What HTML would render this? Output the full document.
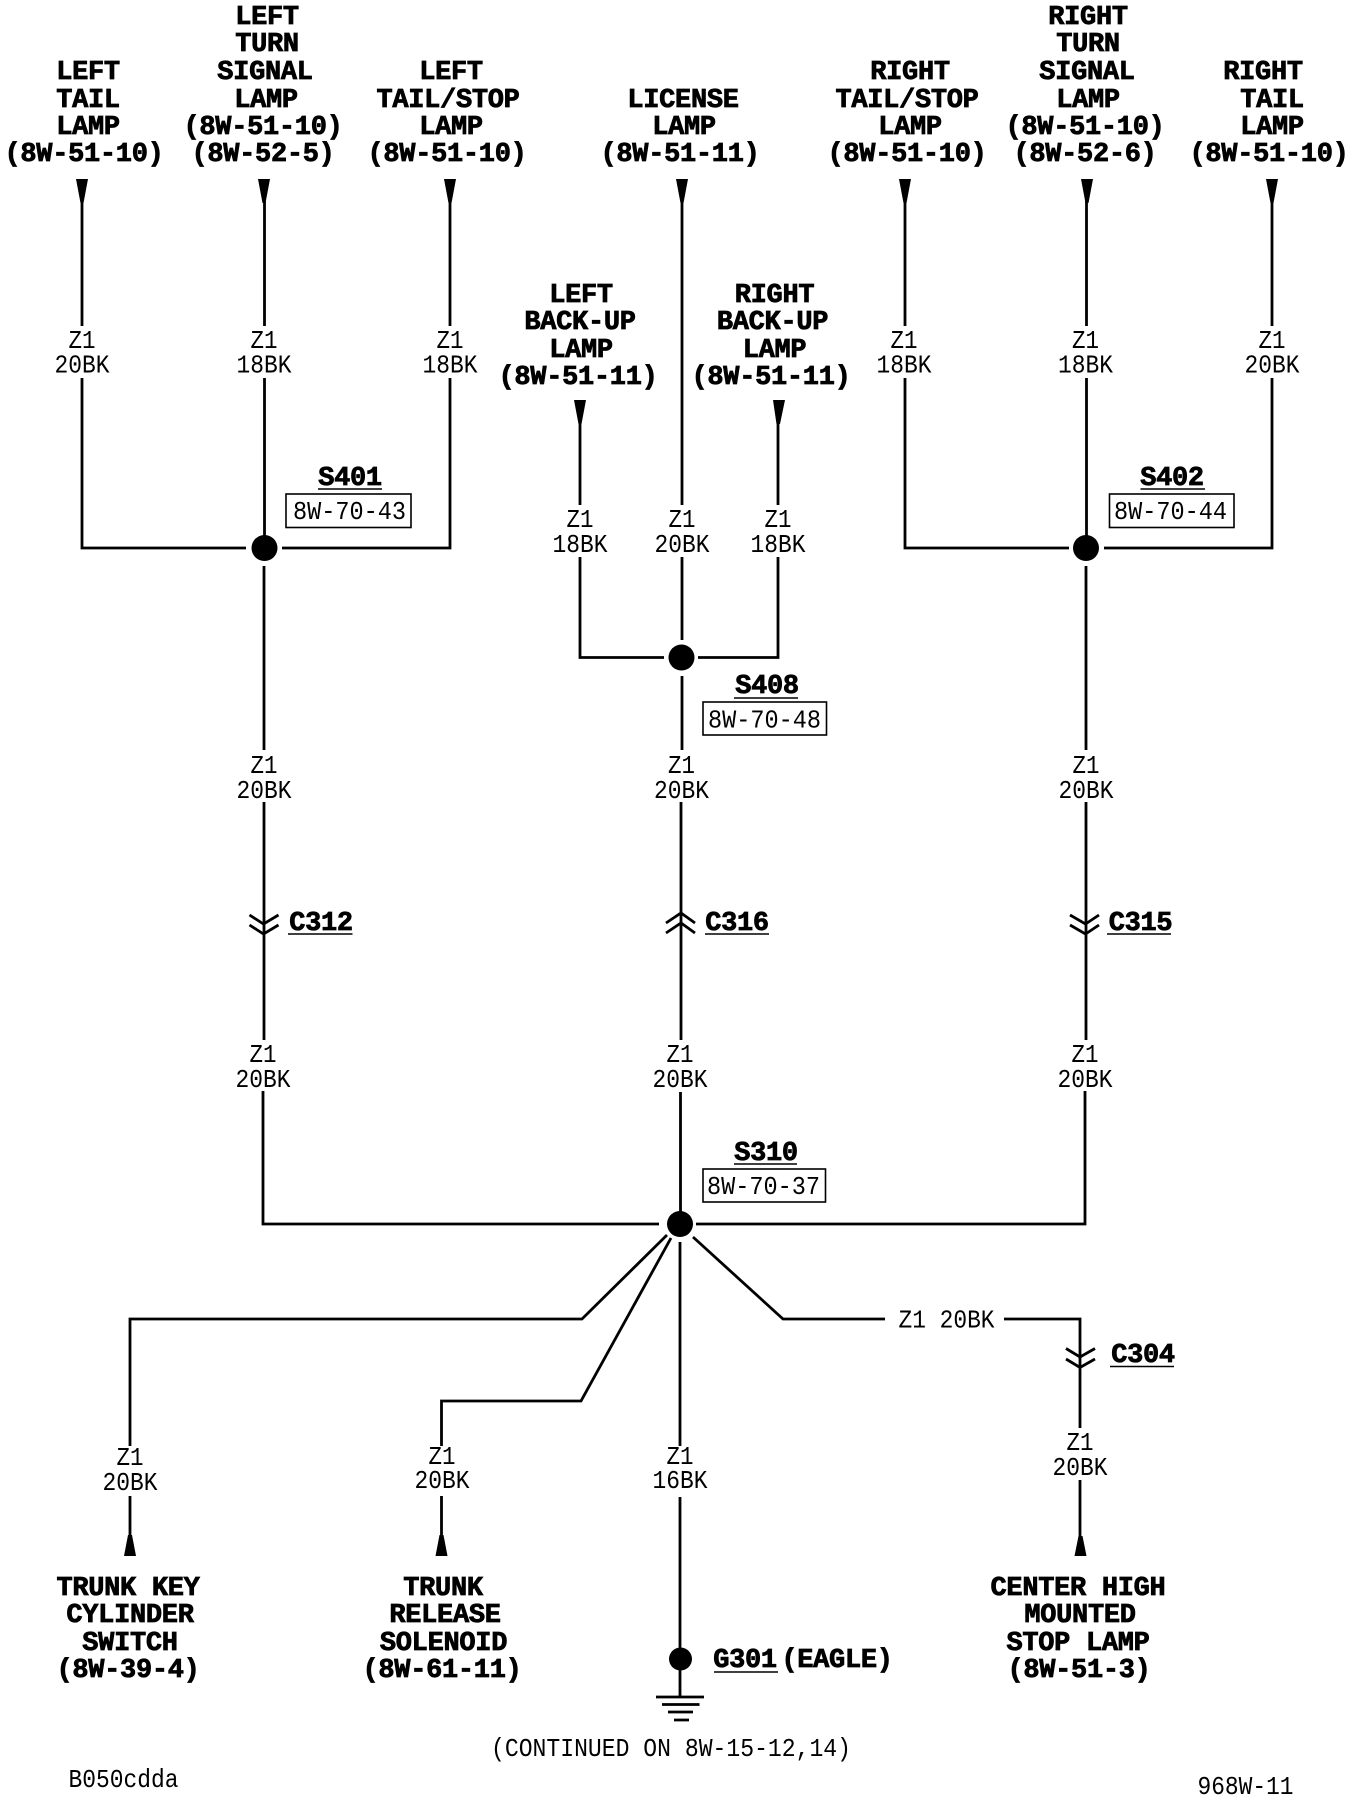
<!DOCTYPE html>
<html><head><meta charset="utf-8"><style>
html,body{margin:0;padding:0;background:#fff}
svg{display:block}
text{font-family:"Liberation Mono",monospace;fill:#000}
.b{font-size:27px;font-weight:bold;letter-spacing:-.3px;stroke:#000;stroke-width:.8px;text-anchor:middle}
.t{font-size:26px;text-anchor:middle}
.w{fill:none;stroke:#000;stroke-width:2.8}
.u{fill:none;stroke:#000;stroke-width:1.6}
</style></head><body>
<svg width="1360" height="1800" viewBox="0 0 1360 1800" xmlns="http://www.w3.org/2000/svg">
<rect width="1360" height="1800" fill="#fff"/>
<!-- wires -->
<g class="w">
<path d="M82 195V326M82 378V548H246"/>
<path d="M264.500 195V326M264.500 378V540M264 566V750M264 802V1040M263 1091V1224H659"/>
<path d="M450 195V326M450 378V548H282"/>
<path d="M580 415V505M580 557V657.500H664"/>
<path d="M682 195V505M682 557V640M682 676V750M681 802V1040M680.500 1092V1212"/>
<path d="M778 415V505M778 557V657.500H698"/>
<path d="M905 195V326M905 378V548H1069"/>
<path d="M1086.500 195V326M1086.500 378V540M1086 566V750M1086 802V1040M1085 1091V1224H696"/>
<path d="M1272 195V326M1272 378V548H1104"/>
<path d="M667 1235L582 1319H130V1446M130 1496V1545"/>
<path d="M671 1238L581 1401H441.500V1446M441.500 1496V1545"/>
<path d="M680 1242V1446M680 1497V1697"/>
<path d="M693 1237L783 1319H885M1004 1319H1080V1428M1080 1480V1545"/>
</g>
<!-- arrowheads -->
<g fill="#000">
<path d="M76 179H88L83.500 203H80.500Z"/>
<path d="M258 179H270L265.500 203H262.500Z"/>
<path d="M444 179H456L451.500 203H448.500Z"/>
<path d="M676 179H688L683.500 203H680.500Z"/>
<path d="M899 179H911L906.500 203H903.500Z"/>
<path d="M1081 179H1093L1088.500 203H1085.500Z"/>
<path d="M1266 179H1278L1273.500 203H1270.500Z"/>
<path d="M574 400H586L581.500 424H578.500Z"/>
<path d="M773 400H785L780 424H776.500Z"/>
<path d="M124 1556H136L132 1535H128Z"/>
<path d="M435.500 1556H447.500L443.500 1535H439.500Z"/>
<path d="M1074.500 1556H1086.500L1082.500 1536H1078.500Z"/>
<circle cx="264.500" cy="548" r="13"/>
<circle cx="1086" cy="548" r="13"/>
<circle cx="681.500" cy="657.500" r="13"/>
<circle cx="680" cy="1224" r="13"/>
<circle cx="680.500" cy="1659" r="11.500"/>
</g>
<!-- connector chevrons -->
<g class="w">
<path d="M249.500 915L263.500 924L278.500 915M249.500 925L263.500 934L278.500 925"/>
<path d="M666 923L681 913L695 923M666 933L681 923L695 933"/>
<path d="M1070 915L1085.500 924L1099 915M1070 925L1085.500 934L1099 925"/>
<path d="M1066 1348.500L1080 1357L1095 1348.500M1066 1359L1080 1367.500L1095 1359"/>
</g>
<!-- ground -->
<g class="w">
<path d="M656 1697H704M662 1704.500H699.500M668 1712H693M674 1720H689"/>
</g>
<!-- reference boxes & underlines -->
<g class="u">
<rect x="286" y="494" width="125" height="33.500"/>
<rect x="1109.500" y="494" width="124.500" height="33.500"/>
<rect x="703" y="702" width="123.500" height="33"/>
<rect x="703" y="1169" width="122.500" height="33"/>
<path d="M318 489H382M1140.500 489H1205M734 698H798M734 1164H797M288 934H352.500M705 934H769M1107 934H1171M1110 1366.500H1174M714 1672H778"/>
</g>
<!-- bold labels top -->
<g class="b">
<text x="88" y="79">LEFT</text><text x="88" y="107">TAIL</text><text x="88" y="134">LAMP</text><text x="84" y="161">(8W-51-10)</text>
<text x="267" y="24">LEFT</text><text x="267" y="51">TURN</text><text x="265" y="79">SIGNAL</text><text x="266" y="107">LAMP</text><text x="263" y="134">(8W-51-10)</text><text x="263" y="161">(8W-52-5)</text>
<text x="451" y="79">LEFT</text><text x="448" y="107">TAIL/STOP</text><text x="451" y="134">LAMP</text><text x="447" y="161">(8W-51-10)</text>
<text x="683" y="107">LICENSE</text><text x="684" y="134">LAMP</text><text x="680" y="161">(8W-51-11)</text>
<text x="581" y="302">LEFT</text><text x="580" y="329">BACK-UP</text><text x="581" y="357">LAMP</text><text x="578" y="384">(8W-51-11)</text>
<text x="774.500" y="302">RIGHT</text><text x="772.500" y="329">BACK-UP</text><text x="774.500" y="357">LAMP</text><text x="771" y="384">(8W-51-11)</text>
<text x="910" y="79">RIGHT</text><text x="907" y="107">TAIL/STOP</text><text x="910" y="134">LAMP</text><text x="907" y="161">(8W-51-10)</text>
<text x="1088" y="24">RIGHT</text><text x="1088" y="51">TURN</text><text x="1087" y="79">SIGNAL</text><text x="1088" y="107">LAMP</text><text x="1085" y="134">(8W-51-10)</text><text x="1085" y="161">(8W-52-6)</text>
<text x="1263" y="79">RIGHT</text><text x="1272" y="107">TAIL</text><text x="1272" y="134">LAMP</text><text x="1269" y="161">(8W-51-10)</text>
<text x="350" y="485">S401</text><text x="1172" y="485">S402</text><text x="767" y="693">S408</text><text x="766" y="1160">S310</text>
<text x="321" y="930">C312</text><text x="737" y="930">C316</text><text x="1140.500" y="930">C315</text><text x="1143" y="1362">C304</text>
<text x="745" y="1667">G301</text><text x="837" y="1667">(EAGLE)</text>
<text x="128" y="1595">TRUNK KEY</text><text x="130" y="1622">CYLINDER</text><text x="130" y="1650">SWITCH</text><text x="128" y="1677">(8W-39-4)</text>
<text x="443" y="1595">TRUNK</text><text x="445" y="1622">RELEASE</text><text x="443.500" y="1650">SOLENOID</text><text x="442" y="1677">(8W-61-11)</text>
<text x="1078" y="1595">CENTER HIGH</text><text x="1080" y="1622">MOUNTED</text><text x="1078" y="1650">STOP LAMP</text><text x="1079" y="1677">(8W-51-3)</text>
</g>
<!-- thin labels -->
<g class="t">
<text x="82" y="348" textLength="27" lengthAdjust="spacingAndGlyphs">Z1</text><text x="82" y="372.500" textLength="55" lengthAdjust="spacingAndGlyphs">20BK</text>
<text x="264" y="348" textLength="27" lengthAdjust="spacingAndGlyphs">Z1</text><text x="264" y="372.500" textLength="55" lengthAdjust="spacingAndGlyphs">18BK</text>
<text x="450" y="348" textLength="27" lengthAdjust="spacingAndGlyphs">Z1</text><text x="450" y="372.500" textLength="55" lengthAdjust="spacingAndGlyphs">18BK</text>
<text x="904" y="348" textLength="27" lengthAdjust="spacingAndGlyphs">Z1</text><text x="904" y="372.500" textLength="55" lengthAdjust="spacingAndGlyphs">18BK</text>
<text x="1085.500" y="348" textLength="27" lengthAdjust="spacingAndGlyphs">Z1</text><text x="1085.500" y="372.500" textLength="55" lengthAdjust="spacingAndGlyphs">18BK</text>
<text x="1272" y="348" textLength="27" lengthAdjust="spacingAndGlyphs">Z1</text><text x="1272" y="372.500" textLength="55" lengthAdjust="spacingAndGlyphs">20BK</text>
<text x="580" y="527" textLength="27" lengthAdjust="spacingAndGlyphs">Z1</text><text x="580" y="552" textLength="55" lengthAdjust="spacingAndGlyphs">18BK</text>
<text x="682" y="527" textLength="27" lengthAdjust="spacingAndGlyphs">Z1</text><text x="682" y="552" textLength="55" lengthAdjust="spacingAndGlyphs">20BK</text>
<text x="778" y="527" textLength="27" lengthAdjust="spacingAndGlyphs">Z1</text><text x="778" y="552" textLength="55" lengthAdjust="spacingAndGlyphs">18BK</text>
<text x="264" y="773" textLength="27" lengthAdjust="spacingAndGlyphs">Z1</text><text x="264" y="798" textLength="55" lengthAdjust="spacingAndGlyphs">20BK</text>
<text x="681.500" y="773" textLength="27" lengthAdjust="spacingAndGlyphs">Z1</text><text x="681.500" y="798" textLength="55" lengthAdjust="spacingAndGlyphs">20BK</text>
<text x="1086" y="773" textLength="27" lengthAdjust="spacingAndGlyphs">Z1</text><text x="1086" y="798" textLength="55" lengthAdjust="spacingAndGlyphs">20BK</text>
<text x="263" y="1062" textLength="27" lengthAdjust="spacingAndGlyphs">Z1</text><text x="263" y="1087" textLength="55" lengthAdjust="spacingAndGlyphs">20BK</text>
<text x="680" y="1062" textLength="27" lengthAdjust="spacingAndGlyphs">Z1</text><text x="680" y="1087" textLength="55" lengthAdjust="spacingAndGlyphs">20BK</text>
<text x="1085" y="1062" textLength="27" lengthAdjust="spacingAndGlyphs">Z1</text><text x="1085" y="1087" textLength="55" lengthAdjust="spacingAndGlyphs">20BK</text>
<text x="130" y="1465" textLength="27" lengthAdjust="spacingAndGlyphs">Z1</text><text x="130" y="1490" textLength="55" lengthAdjust="spacingAndGlyphs">20BK</text>
<text x="442" y="1464" textLength="27" lengthAdjust="spacingAndGlyphs">Z1</text><text x="442" y="1488" textLength="55" lengthAdjust="spacingAndGlyphs">20BK</text>
<text x="680" y="1464" textLength="27" lengthAdjust="spacingAndGlyphs">Z1</text><text x="680" y="1488" textLength="55" lengthAdjust="spacingAndGlyphs">16BK</text>
<text x="1080" y="1450" textLength="27" lengthAdjust="spacingAndGlyphs">Z1</text><text x="1080" y="1475" textLength="55" lengthAdjust="spacingAndGlyphs">20BK</text>
<text x="946.500" y="1327.500" textLength="96" lengthAdjust="spacingAndGlyphs">Z1 20BK</text>
<text x="349.500" y="519" textLength="113" lengthAdjust="spacingAndGlyphs">8W-70-43</text>
<text x="1170.500" y="519" textLength="113" lengthAdjust="spacingAndGlyphs">8W-70-44</text>
<text x="764.500" y="727.500" textLength="113" lengthAdjust="spacingAndGlyphs">8W-70-48</text>
<text x="763.500" y="1194" textLength="113" lengthAdjust="spacingAndGlyphs">8W-70-37</text>
<text x="671" y="1756" textLength="360" lengthAdjust="spacingAndGlyphs">(CONTINUED ON 8W-15-12,14)</text>
<text x="123.500" y="1787" textLength="110" lengthAdjust="spacingAndGlyphs">B050cdda</text>
<text x="1245.500" y="1794" textLength="96" lengthAdjust="spacingAndGlyphs">968W-11</text>
</g>
</svg>
</body></html>
